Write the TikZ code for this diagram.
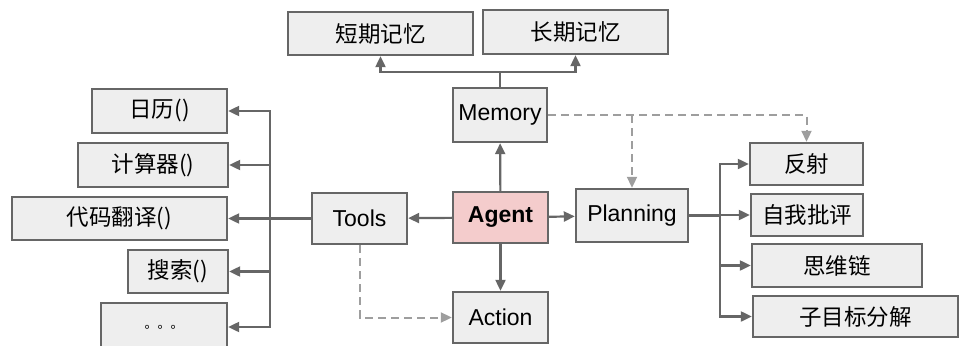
\documentclass[tikz,border=0pt]{standalone}
\usepackage{fontspec}
\setmainfont{Liberation Sans}
\newfontfamily\cjk{Noto Sans CJK SC}
\usepackage{tikz}
\usetikzlibrary{arrows.meta}
\definecolor{boxfill}{HTML}{EEEEEE}
\definecolor{boxline}{HTML}{666666}
\definecolor{agentfill}{HTML}{F4CCCC}
\definecolor{dashline}{HTML}{9E9E9E}
\tikzset{box/.style={draw=boxline,fill=boxfill,line width=2.4pt,inner sep=0pt,
  font=\fontsize{23}{26}\selectfont}}
\tikzset{cbox/.style={box,font=\cjk\fontsize{22.5}{26}\selectfont}}
\tikzset{arr/.style={draw=boxline,line width=2.2pt,-{Triangle[length=11pt,width=10pt]}}}
\tikzset{lin/.style={draw=boxline,line width=2.2pt}}
\tikzset{dsh/.style={draw=dashline,line width=2pt,dash pattern=on 8pt off 5pt,-{Triangle[length=11pt,width=10pt]}}}

\begin{document}
\begin{tikzpicture}[x=1pt,y=-1pt]
\useasboundingbox (0,0) rectangle (960,345);
\clip (0,0) rectangle (960,345);
% middle
\node[box,fill=agentfill,minimum width=95,minimum height=51,font=\bfseries\fontsize{23}{26}\selectfont] (agent) at (500.5,217.5) {Agent};
\node[box,minimum width=94,minimum height=54] (memory) at (500,115) {Memory};
\node[box,minimum width=95,minimum height=51] (tools) at (359.5,218.5) {Tools};
\node[box,minimum width=95,minimum height=51] (action) at (500.5,317.5) {Action};
\node[box,minimum width=112,minimum height=53] (planning) at (632,215.5) {Planning};
% memory
\node[cbox,minimum width=185,minimum height=43] (stm) at (380.5,33.5) {短期记忆};
\node[cbox,minimum width=185,minimum height=44] (ltm) at (575.5,32) {长期记忆};
% tools
\node[cbox,minimum width=135,minimum height=44] (cal) at (159.5,111) {日历()};
\node[cbox,minimum width=150,minimum height=44] (calc) at (153,165) {计算器()};
\node[cbox,minimum width=215,minimum height=43] (code) at (119.5,218.5) {代码翻译()};
\node[cbox,minimum width=100,minimum height=43] (search) at (178,271.5) {搜索()};
\node[box,minimum width=126,minimum height=48,font=\cjk\fontsize{13}{15}\selectfont] (more) at (164,327) {。。。};
% planning
\node[cbox,minimum width=113,minimum height=42] (refl) at (806.5,164) {反射};
\node[cbox,minimum width=112,minimum height=42] (crit) at (807,215) {自我批评};
\node[cbox,minimum width=170,minimum height=43] (cot) at (837,265.5) {思维链};
\node[cbox,minimum width=205,minimum height=41] (subg) at (855.5,316.5) {子目标分解};

\draw[arr] (agent) -- (memory);
\draw[arr] (agent) -- (tools);
\draw[arr] (agent) -- (action);
\draw[arr] (agent) -- (planning);

\coordinate (mj) at (500,72);
\draw[lin] (memory.north) -- (mj);
\draw[arr] (mj) -| (stm.south);
\draw[arr] (mj) -| (ltm.south);

\coordinate (tj) at (270,218.5);
\draw[lin] (tools.west) -- (tj);
\foreach \t in {cal,calc,code,search,more}
  \draw[arr] (tj) |- (\t.east);

\coordinate (pj) at (720,215.5);
\draw[lin] (planning.east) -- (pj);
\foreach \t in {refl,crit,cot,subg}
  \draw[arr] (pj) |- (\t.west);

\draw[dsh] (memory.east) -| (refl.north);
\draw[dsh] (planning.north |- memory.east) -- (planning.north);
\draw[dsh] (tools.south) |- (action.west);
\end{tikzpicture}
\end{document}
